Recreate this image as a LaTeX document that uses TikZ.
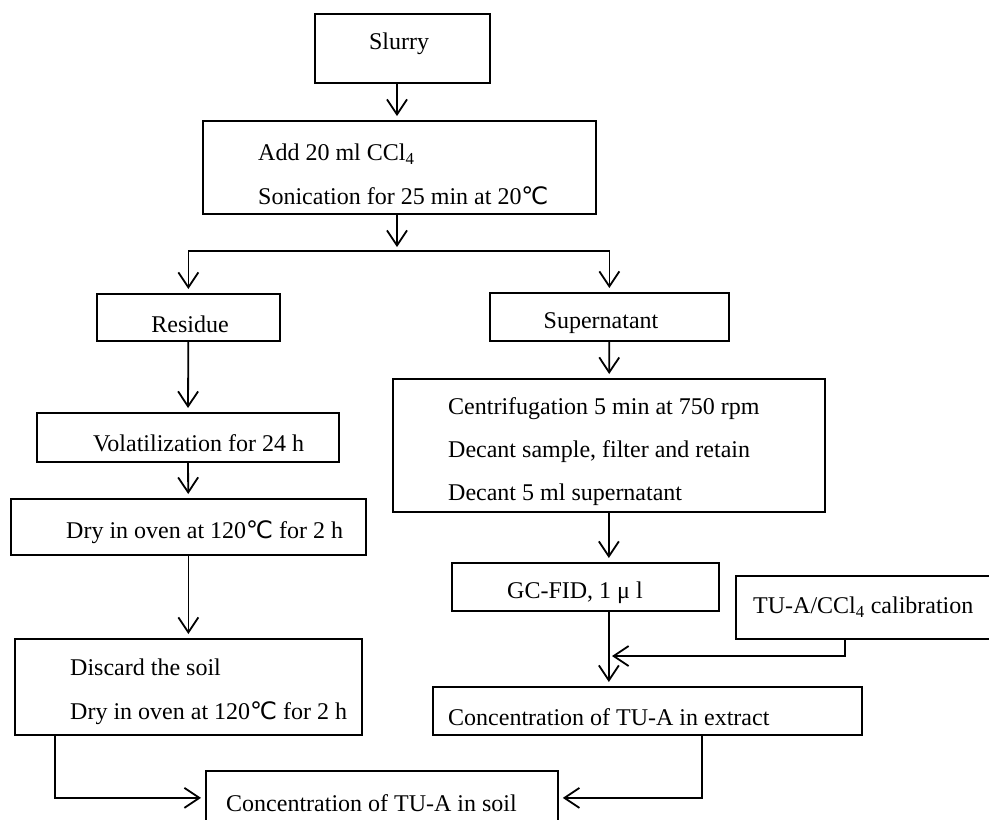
\documentclass[tikz,border=0pt]{standalone}
\usepackage{fontspec}
\setmainfont{Liberation Serif}
\newfontfamily\symfont{DejaVu Sans}
\usetikzlibrary{calc}
\usetikzlibrary{arrows.meta}
\newcommand{\degC}{{\symfont ℃}}

\begin{document}
\begin{tikzpicture}[x=1pt,y=-1pt,
        box/.style={draw=black,rectangle,line width=1.8pt,anchor=north west,inner sep=0pt},
        txt/.style={font=\fontsize{24}{44}\selectfont,inner sep=0pt,align=left},
        flow/.style={-{Straight Barb[length=15pt,width=20pt]},line width=1.8pt,shorten >=4pt}
      ]
      \clip (0,0) rectangle (989,820);
      % Boxes.
      \node[box,minimum width=175,minimum height=69] (slurry) at (314,13) {};
      \node[box,minimum width=393,minimum height=93] (add) at (202,120) {};
      \node[box,minimum width=183,minimum height=47] (residue) at (96,293) {};
      \node[box,minimum width=239,minimum height=48] (super) at (489,292) {};
      \node[box,minimum width=432,minimum height=133] (cent) at (392,378) {};
      \node[box,minimum width=302,minimum height=49] (vol) at (36,412) {};
      \node[box,minimum width=355,minimum height=56] (dry) at (10,498) {};
      \node[box,minimum width=347,minimum height=96] (disc) at (14,638) {};
      \node[box,minimum width=267,minimum height=48] (gc) at (451,562) {};
      \node[box,minimum width=280,minimum height=63] (cal) at (735,575) {};
      \node[box,minimum width=429,minimum height=48] (ext) at (432,686) {};
      \node[box,minimum width=352,minimum height=54] (soil) at (205,770) {};
      % Texts.
      \node[txt] (slurrytxt) at (399,44) {Slurry};
      \node[txt,anchor=west] (addtxt) at (258,174.5) {Add 20 ml CCl\textsubscript{4}\\Sonication for 25 min at 20\degC};
      \node[txt] (residuetxt) at (190,324) {Residue};
      \node[txt] (supertxt) at (601,323) {Supernatant};
      \node[txt,anchor=west] (centtxt) at (448,452) {Centrifugation 5 min at 750 rpm\\[-1pt]Decant sample, filter and retain\\[-1pt]Decant 5 ml supernatant};
      \node[txt,anchor=west] (voltxt) at (93,443) {Volatilization for 24 h};
      \node[txt,anchor=west] (drytxt) at (66,532) {Dry in oven at 120\degC{} for 2 h};
      \node[txt,anchor=west] (disctxt) at (70,691.5) {Discard the soil\\Dry in oven at 120\degC{} for 2 h};
      \node[txt] (gctxt) at (575,593) {GC-FID, 1 μ l};
      \node[txt,anchor=west] (caltxt) at (753,607) {TU-A/CCl\textsubscript{4} calibration};
      \node[txt,anchor=west] (exttxt) at (448,717) {Concentration of TU-A in extract};
      \node[txt,anchor=west] (soiltxt) at (226,803) {Concentration of TU-A in soil};
      % Connections.
      \coordinate (fork) at (397,251);
      \coordinate (join) at (608,656);
      \draw[flow] (fork |- slurry.south) -- (fork |- add.north);
      \draw[flow] (fork |- add.south) -- (fork);
      \draw[flow] (fork) -| (residue.north);
      \draw[flow] (fork) -| (super.north);
      \draw[flow] (residue) -- (vol);
      \draw[flow] (vol) -- (dry);
      \draw[flow] (dry) -- (disc);
      \draw[flow] (super) -- (cent);
      \draw[flow] (cent.south) -- (cent.south |- gc.north);
      \draw[flow] (cent.south |- gc.south) -- (cent.south |- ext.north);
      \draw[flow] ($(cal.south west)+(110,0)$) |- (join);
      \draw[flow] ($(ext.south)+(54.5,0)$) |- (soil.east);
      \draw[flow] ($(disc.south west)+(41,0)$) |- (soil.west);
    \end{tikzpicture}
\end{document}
